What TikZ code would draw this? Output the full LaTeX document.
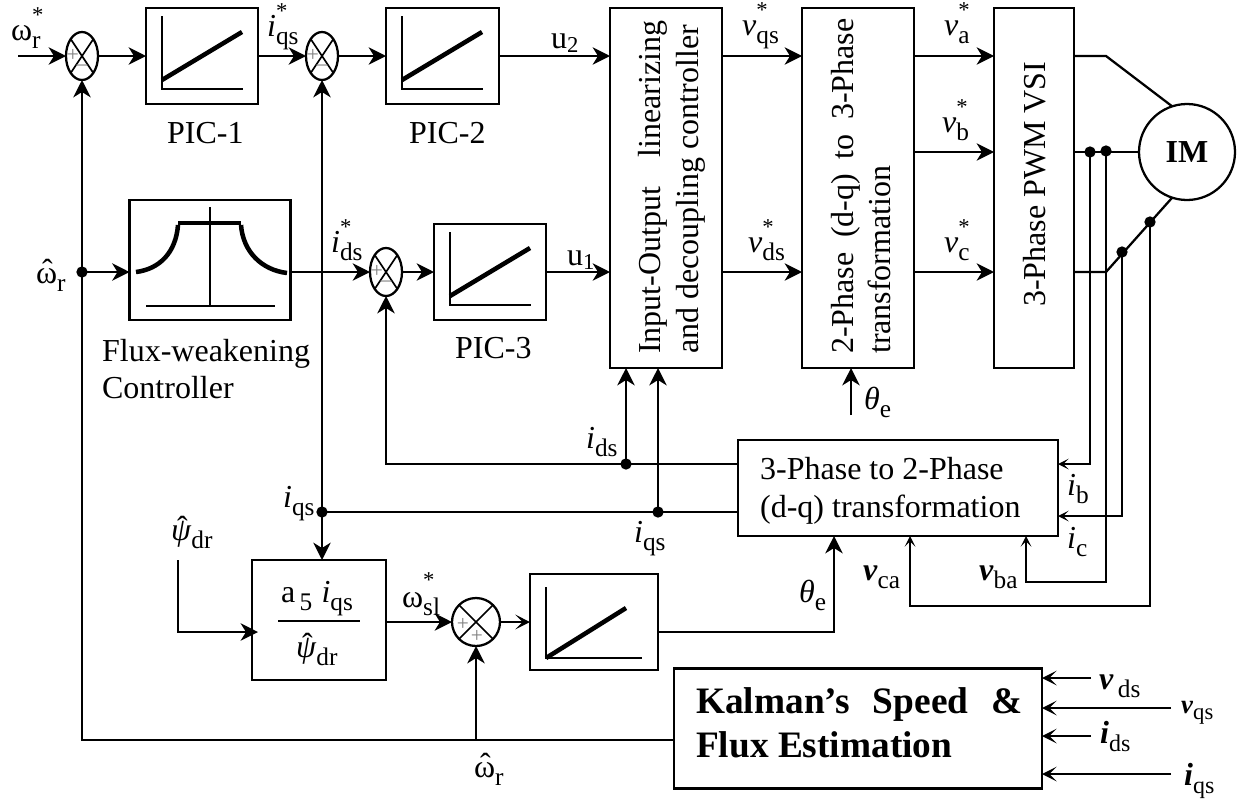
\documentclass[tikz,border=0pt]{standalone}
\usepackage{fontspec}
\setmainfont{Liberation Serif}
\usetikzlibrary{arrows.meta,shapes.geometric}
\newcommand{\sig}[3]{#1\rlap{\raisebox{13pt}{\fontsize{17}{17}\selectfont #3}}\raisebox{-6.5pt}{\fontsize{19}{19}\selectfont #2}}
\newcommand{\hatup}[1]{\rlap{\hspace{4.5pt}\raisebox{1pt}{ˆ}}#1}

\begin{document}
\begin{tikzpicture}[x=0.75pt,y=0.75pt,yscale=-1,xscale=1,
  line width=1.7pt,
  arr/.style={-{Stealth[length=13pt,width=13pt,inset=4pt]}},
  arrthin/.style={-{Stealth[length=11pt,width=11pt,inset=5.5pt]}},
  arrsmall/.style={-{Stealth[length=8pt,width=8pt,inset=4pt]}},
  blockbox/.style={draw,inner sep=0pt,outer sep=0pt},
  sumnode/.style={draw,ellipse,inner sep=0pt,outer sep=0pt,minimum width=24pt,minimum height=36pt},
  jdot/.style={circle,fill=black,inner sep=0pt,minimum size=8.5pt},
  lab/.style={anchor=base west,inner sep=0pt,font=\fontsize{24}{28}\selectfont},
  signs/.style={inner sep=0pt,text=gray,font=\fontsize{16}{16}\selectfont}]

\useasboundingbox (0,0) rectangle (1237,800);

\node [blockbox,minimum width=84pt,minimum height=72pt] (pica) at (202,56) {};
\node [blockbox,minimum width=84.75pt,minimum height=72pt] (picb) at (442.5,56) {};
\node [blockbox,minimum width=84pt,minimum height=72pt] (picc) at (490,272) {};
\node [blockbox,minimum width=96pt,minimum height=72pt] (pici) at (594,622) {};
\node [blockbox,minimum width=120.75pt,minimum height=90pt] (flux) at (210,260) {};
\node [blockbox,minimum width=84pt,minimum height=270pt] (io) at (666,188) {};
\node [blockbox,minimum width=84pt,minimum height=270pt] (two) at (858,188) {};
\node [blockbox,minimum width=60pt,minimum height=270pt] (pwm) at (1034,188) {};
\node [blockbox,minimum width=240pt,minimum height=72pt] (conv) at (898,488) {};
\node [blockbox,minimum width=100.5pt,minimum height=90pt] (frac) at (319,620) {};
\node [blockbox,minimum width=276pt,minimum height=90pt] (kalman) at (858,728.5) {};
\node [draw,circle,inner sep=0pt,outer sep=0pt,minimum size=72pt,font=\fontsize{24}{28}\selectfont\bfseries] (im) at (1187,152) {IM};

\foreach \n/\x/\y in {suma/82/56,sumb/322/56,sumc/386/272} {
  \node [sumnode] (\n) at (\x,\y) {};
  \draw [line width=1.25pt] (\n.north west) -- (\n.south east);
  \draw [line width=1.25pt] (\n.north east) -- (\n.south west);
  \node [signs] (\n-plus) at (\x-9,\y-1) {+};
  \node [signs] (\n-minus) at (\x,\y+12) {–};
}
\node [sumnode,minimum width=36pt,minimum height=36pt] (sumd) at (476,622) {};
\draw [line width=1.25pt] (sumd.north west) -- (sumd.south east);
\draw [line width=1.25pt] (sumd.north east) -- (sumd.south west);
\node [signs] (sumd-plusa) at (463,624) {+};
\node [signs] (sumd-plusb) at (477,636) {+};

\foreach \n in {pica,picb,picc} {
  \begin{scope}[shift={(\n.north west)}]
  \draw (16,8) -- (16,81) -- (97,81);
  \draw [line width=3.4pt] (16,72) -- (96,24);
  \end{scope}
}
\draw (546,587) -- (546,658) -- (642,658);
\draw [line width=3.4pt] (546,658) -- (626,608);

\draw (210,207) -- (210,306);
\draw (146,306) -- (275,306);
\draw [line width=3.4pt] (178,223) -- (241,223);
\draw [line width=3.4pt] (136,272) .. controls (160,269) and (176,252) .. (178,225);
\draw [line width=3.4pt] (241,225) .. controls (243,252) and (262,270) .. (287,273);

\draw (278,621) -- (360,621);

\coordinate (wrin) at (18,56);
\coordinate (ka) at (1106,56);
\coordinate (kc) at (1106,272);
\coordinate (ibin) at (1058,464);
\coordinate (icin) at (1058,516);
\coordinate (vbturn) at (1026,582);
\coordinate (vbtip) at (1026,536);
\coordinate (vcturn) at (910,606);
\coordinate (vctip) at (910,536);
\coordinate (idsin) at (738,464);
\coordinate (iqsin) at (738,512);
\coordinate (kalo) at (674,740);
\coordinate (psis) at (178,560);
\coordinate (psit) at (258,632);
\coordinate (thout) at (658,632);
\coordinate (thtip) at (834,536);
\coordinate (thb) at (851,415);
\coordinate (kv) at (1091,678);
\coordinate (kw) at (1171,708);
\coordinate (ki) at (1091,736);
\coordinate (kj) at (1171,774);

\node [jdot] (dotw) at (82,272) {};
\node [jdot] (dotd) at (626,464) {};
\node [jdot] (dotm) at (658,512) {};
\node [jdot] (dotl) at (322,512) {};
\node [jdot] (dotib) at (1090,152) {};
\node [jdot] (dotvb) at (1106,151) {};
\node [jdot] (dotic) at (1122,252) {};
\node [jdot] (dotvc) at (1150,222) {};

\draw [arr] (wrin) -- (suma.west);
\draw [arr] (suma.east) -- (pica.west);
\draw [arr] (pica.east) -- (sumb.west);
\draw [arr] (sumb.east) -- (picb.west);
\draw [arr] (picb.east) -- (picb.east -| io.west);
\draw [arr] (io.east |- picb.east) -- (two.west |- picb.east);
\draw [arr] (two.east |- picb.east) -- (pwm.west |- picb.east);
\draw [arr] (two.east |- im.west) -- (pwm.west |- im.west);
\draw [arr] (dotw.center -| flux.east) -- (sumc.west);
\draw [arr] (sumc.east) -- (picc.west);
\draw [arr] (picc.east) -- (picc.east -| io.west);
\draw [arr] (io.east |- picc.east) -- (two.west |- picc.east);
\draw [arr] (two.east |- picc.east) -- (pwm.west |- picc.east);
\draw [arr] (dotw.center) -- (dotw.center -| flux.west);
\draw [arr] (kalo) -| (suma.south);

\draw (pwm.east |- picb.east) -- (ka) -- (im.108);
\draw (pwm.east |- im.west) -- (im.west);
\draw (pwm.east |- picc.east) -- (kc) -- (im.252);

\draw [arrsmall] (dotib.center) |- (ibin);
\draw [arrsmall] (dotic.center) |- (icin);
\draw [arrsmall] (dotvb.center) |- (vbturn) -- (vbtip);
\draw [arrsmall] (dotvc.center) |- (vcturn) -- (vctip);

\draw [arr] (idsin) -| (sumc.south);
\draw [arr] (dotd.center) -- (dotd.center |- io.south);
\draw (iqsin) -- (dotl.center);
\draw [arr] (dotm.center) -- (dotm.center |- io.south);
\draw [arr] (dotl.center) -- (sumb.south);
\draw [arr] (dotl.center) -- (dotl.center |- frac.north);

\draw [arr] (psis) |- (psit);
\draw [arr] (frac.east |- sumd.west) -- (sumd.west);
\draw [arrthin] (sumd.east) -- (pici.west);
\draw [arr] (sumd.south |- kalo) -- (sumd.south);
\draw [arr] (thout) -| (thtip);
\draw [arr] (thb) -- (thb |- two.south);

\draw [arrthin] (kv) -- (kalman.east |- kv);
\draw [arrthin] (kw) -- (kalman.east |- kw);
\draw [arrthin] (ki) -- (kalman.east |- ki);
\draw [arrthin] (kj) -- (kalman.east |- kj);

\node [lab] (lwr) at (10,40) {\sig{ω}{r}{*}};
\node [lab] (liqs) at (266,36) {\sig{\textit{i}}{qs}{*}};
\node [lab] (lpica) at (166,143) {PIC-1};
\node [lab] (lpicb) at (408,143) {PIC-2};
\node [lab] (lpicc) at (454,358) {PIC-3};
\node [lab] (lub) at (550,48) {u\raisebox{-3pt}{\fontsize{17}{17}\selectfont 2}};
\node [lab] (lua) at (566,265) {u\raisebox{-3pt}{\fontsize{17}{17}\selectfont 1}};
\node [lab] (lvqs) at (741,35) {\sig{\textit{v}}{qs}{*}};
\node [lab] (lvds) at (747,252) {\sig{\textit{v}}{ds}{*}};
\node [lab] (lva) at (943,35) {\sig{\textit{v}}{a}{*}};
\node [lab] (lvb) at (941,132) {\sig{\textit{v}}{b}{*}};
\node [lab] (lvc) at (943,252) {\sig{\textit{v}}{c}{*}};
\node [lab] (lwh) at (35,283) {\sig{\hatup{ω}}{r}{}};
\node [lab] (lids) at (330,252) {\sig{\textit{i}}{ds}{*}};
\node [lab,align=left,anchor=north west] (lflux) at (101,338) {Flux-weakening\\Controller};
\node [lab] (lthb) at (863,409) {\sig{\textit{θ}}{e}{}};
\node [lab] (lidsb) at (585,448) {\sig{\textit{i}}{ds}{}};
\node [lab] (liqsb) at (633,542) {\sig{\textit{i}}{qs}{}};
\node [lab] (liqsc) at (282,507) {\sig{\textit{i}}{qs}{}};
\node [lab] (lpsi) at (170,540) {\sig{\hatup{\textit{ψ}}}{dr}{}};
\node [lab] (lnum) at (280,602) {\sig{a}{\,5}{}\hspace{7pt}\sig{\textit{i}}{qs}{}};
\node [lab] (lden) at (295,657) {\sig{\hatup{\textit{ψ}}}{dr}{}};
\node [lab] (lwsl) at (401,607) {\sig{ω}{sl}{\raisebox{2pt}{*}}};
\node [lab] (lwhb) at (473,777) {\sig{\hatup{ω}}{r}{}};
\node [lab] (lthc) at (798,602) {\sig{\textit{θ}}{e}{}};
\node [lab] (lvca) at (862,580) {\sig{\textbf{\textit{v}}}{ca}{}};
\node [lab] (lvba) at (978,580) {\sig{\textbf{\textit{v}}}{ba}{}};
\node [lab] (lib) at (1066,495) {\sig{\textit{i}}{b}{}};
\node [lab] (lic) at (1066,548) {\sig{\textit{i}}{c}{}};
\node [lab] (lconv) at (759,479) {3-Phase to 2-Phase};
\node [lab] (lconvb) at (759,517) {(d-q) transformation};
\node [lab] (lkvd) at (1098,689) {\sig{\textbf{\textit{v}}}{\,ds}{}};
\node [lab,font=\fontsize{20}{22}\selectfont] (lkvq) at (1180,713) {\textbf{\textit{v}}\raisebox{-5pt}{\fontsize{17}{17}\selectfont qs}};
\node [lab] (lkid) at (1099,743) {\textbf{\textit{i}}\raisebox{-6pt}{\fontsize{18}{18}\selectfont ds}};
\node [lab] (lkiq) at (1183,785) {\textbf{\textit{i}}\raisebox{-6pt}{\fontsize{18}{18}\selectfont qs}};

\node [lab,rotate=90] (liota) at (660,355) {Input-Output\hspace{22pt}linearizing};
\node [lab,rotate=90] (liotb) at (698,355) {and decoupling controller};
\node [lab,rotate=90] (ltwoa) at (853,355) {2-Phase\hspace{11pt}(d-q)\hspace{11pt}to\hspace{11pt}3-Phase};
\node [lab,rotate=90] (ltwob) at (890,355) {transformation};
\node [lab,rotate=90] (lpwm) at (1045,308) {3-Phase PWM VSI};

\node [lab,font=\fontsize{28}{32}\selectfont\bfseries] (lkala) at (695,713) {Kalman’s\hspace{17pt}Speed\hspace{17pt}\&};
\node [lab,font=\fontsize{28}{32}\selectfont\bfseries] (lkalb) at (695,757) {Flux Estimation};

\end{tikzpicture}
\end{document}
